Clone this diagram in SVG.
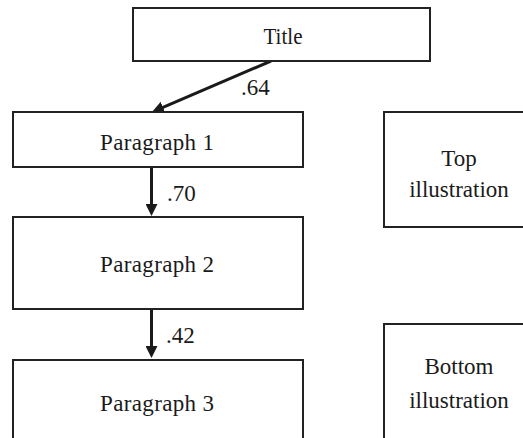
<svg xmlns="http://www.w3.org/2000/svg" width="523" height="438" viewBox="0 0 523 438">
<defs>
<marker id="ah" markerUnits="userSpaceOnUse" markerWidth="13" markerHeight="12" refX="2" refY="6" orient="auto" viewBox="0 0 13 12">
<path d="M0,0 L12,6 L0,12 z" fill="#1a1a1a"/>
</marker>
</defs>
<rect width="523" height="438" fill="#fff"/>
<g id="connectors" stroke="#1a1a1a" stroke-width="3" fill="none">
<line x1="271" y1="61" x2="161.2" y2="108.1" marker-end="url(#ah)"/>
<line x1="151.5" y1="167" x2="151.5" y2="206" marker-end="url(#ah)"/>
<line x1="151.5" y1="309" x2="151.5" y2="348" marker-end="url(#ah)"/>
</g>
<g id="labels" font-family="Liberation Serif" font-size="23" fill="#1a1a1a">
<text x="241" y="95">.64</text>
<text x="167" y="201">.70</text>
<text x="166" y="343">.42</text>
</g>
<g font-family="Liberation Serif" fill="#1a1a1a" text-anchor="middle">
<g id="title">
<rect x="133" y="8" width="297" height="53" fill="#fff" stroke="#222" stroke-width="2"/>
<text x="283" y="44" font-size="23" textLength="39" lengthAdjust="spacingAndGlyphs">Title</text>
</g>
<g id="paragraph1">
<rect x="13" y="112" width="290" height="55" fill="#fff" stroke="#222" stroke-width="2"/>
<text x="157" y="150" font-size="23" textLength="114" lengthAdjust="spacing">Paragraph 1</text>
</g>
<g id="paragraph2">
<rect x="13" y="217" width="290" height="92" fill="#fff" stroke="#222" stroke-width="2"/>
<text x="157" y="272" font-size="23" textLength="114" lengthAdjust="spacing">Paragraph 2</text>
</g>
<g id="paragraph3">
<rect x="13" y="360" width="290" height="90" fill="#fff" stroke="#222" stroke-width="2"/>
<text x="157" y="411" font-size="23" textLength="114" lengthAdjust="spacing">Paragraph 3</text>
</g>
<g id="top-illustration">
<rect x="384" y="112" width="150" height="115" fill="#fff" stroke="#222" stroke-width="2"/>
<text x="459" y="166" font-size="23">Top</text>
<text x="459" y="197" font-size="23">illustration</text>
</g>
<g id="bottom-illustration">
<rect x="384" y="324" width="150" height="130" fill="#fff" stroke="#222" stroke-width="2"/>
<text x="459" y="374" font-size="23">Bottom</text>
<text x="459" y="408" font-size="23">illustration</text>
</g>
</g>
</svg>
